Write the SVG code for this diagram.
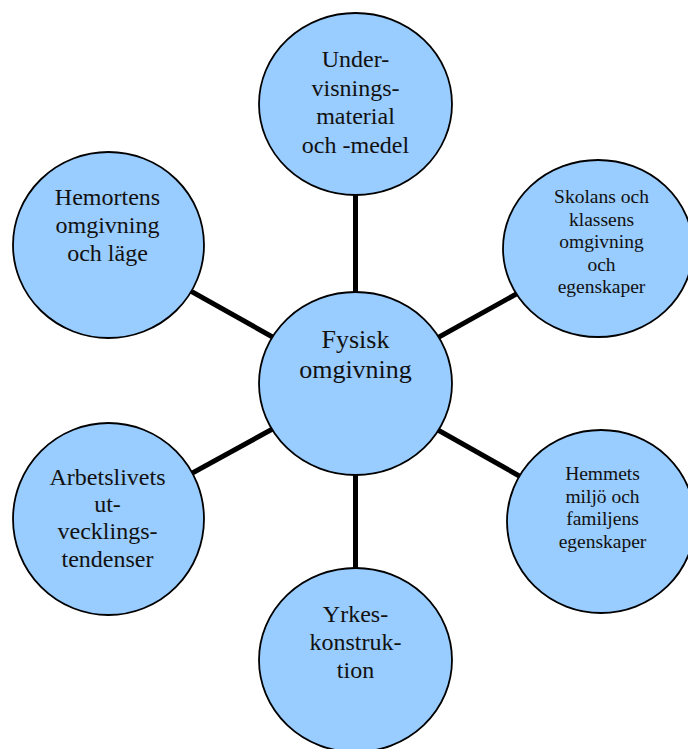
<svg xmlns="http://www.w3.org/2000/svg" width="688" height="749" viewBox="0 0 688 749">
  <style>
    .node { fill: #99ccff; stroke: #000; stroke-width: 1.8; }
    .link { stroke: #000; stroke-width: 5; stroke-linecap: butt; }
    .lbl { font-family: "Liberation Serif", "Times New Roman", serif; fill: #111; text-anchor: middle; }
    .big { font-size: 26px; }
    .mid { font-size: 24px; }
    .small { font-size: 19.5px; }
  </style>
  <rect width="688" height="749" fill="#fff"/>

  <!-- spokes from the hub to each satellite -->
  <g id="connectors">
    <line class="link" x1="355.5" y1="383.5" x2="355.5" y2="104"/>
    <line class="link" x1="355.5" y1="383.5" x2="355.5" y2="660"/>
    <line class="link" x1="355.5" y1="383.5" x2="108.5" y2="245"/>
    <line class="link" x1="355.5" y1="383.5" x2="598" y2="248.5"/>
    <line class="link" x1="355.5" y1="383.5" x2="600" y2="521.5"/>
    <line class="link" x1="355.5" y1="383.5" x2="108.5" y2="519"/>
  </g>

  <g id="hub">
    <ellipse class="node" cx="355.5" cy="383.5" rx="96.5" ry="91.5"/>
    <text class="lbl big" x="355.5" y="348">Fysisk</text>
    <text class="lbl big" x="355.5" y="378">omgivning</text>
  </g>

  <g id="undervisningsmaterial">
    <ellipse class="node" cx="355.5" cy="104" rx="96.5" ry="91"/>
    <text class="lbl mid" x="355.5" y="67">Under-</text>
    <text class="lbl mid" x="355.5" y="95.5">visnings-</text>
    <text class="lbl mid" x="355.5" y="124">material</text>
    <text class="lbl mid" x="355.5" y="152.5">och -medel</text>
  </g>

  <g id="hemorten">
    <ellipse class="node" cx="108.5" cy="245" rx="95.5" ry="93"/>
    <text class="lbl mid" x="107.5" y="205">Hemortens</text>
    <text class="lbl mid" x="107.5" y="233">omgivning</text>
    <text class="lbl mid" x="107.5" y="261">och läge</text>
  </g>

  <g id="skolan">
    <ellipse class="node" cx="598" cy="248.5" rx="95" ry="88.5"/>
    <text class="lbl small" x="601.5" y="203">Skolans och</text>
    <text class="lbl small" x="601.5" y="225.5">klassens</text>
    <text class="lbl small" x="601.5" y="248">omgivning</text>
    <text class="lbl small" x="601.5" y="270.5">och</text>
    <text class="lbl small" x="601.5" y="293">egenskaper</text>
  </g>

  <g id="hemmet">
    <ellipse class="node" cx="601" cy="521.5" rx="94" ry="91.5"/>
    <text class="lbl small" x="602.5" y="480">Hemmets</text>
    <text class="lbl small" x="602.5" y="502.5">miljö och</text>
    <text class="lbl small" x="602.5" y="525">familjens</text>
    <text class="lbl small" x="602.5" y="547.5">egenskaper</text>
  </g>

  <g id="arbetslivet">
    <ellipse class="node" cx="108.5" cy="519" rx="95.5" ry="96"/>
    <text class="lbl mid" x="107.5" y="485">Arbetslivets</text>
    <text class="lbl mid" x="107.5" y="512">ut-</text>
    <text class="lbl mid" x="107.5" y="539">vecklings-</text>
    <text class="lbl mid" x="107.5" y="566.5">tendenser</text>
  </g>

  <g id="yrkeskonstruktion">
    <ellipse class="node" cx="355.5" cy="660" rx="96.5" ry="92"/>
    <text class="lbl mid" x="355.5" y="622">Yrkes-</text>
    <text class="lbl mid" x="355.5" y="650">konstruk-</text>
    <text class="lbl mid" x="355.5" y="678">tion</text>
  </g>
</svg>
